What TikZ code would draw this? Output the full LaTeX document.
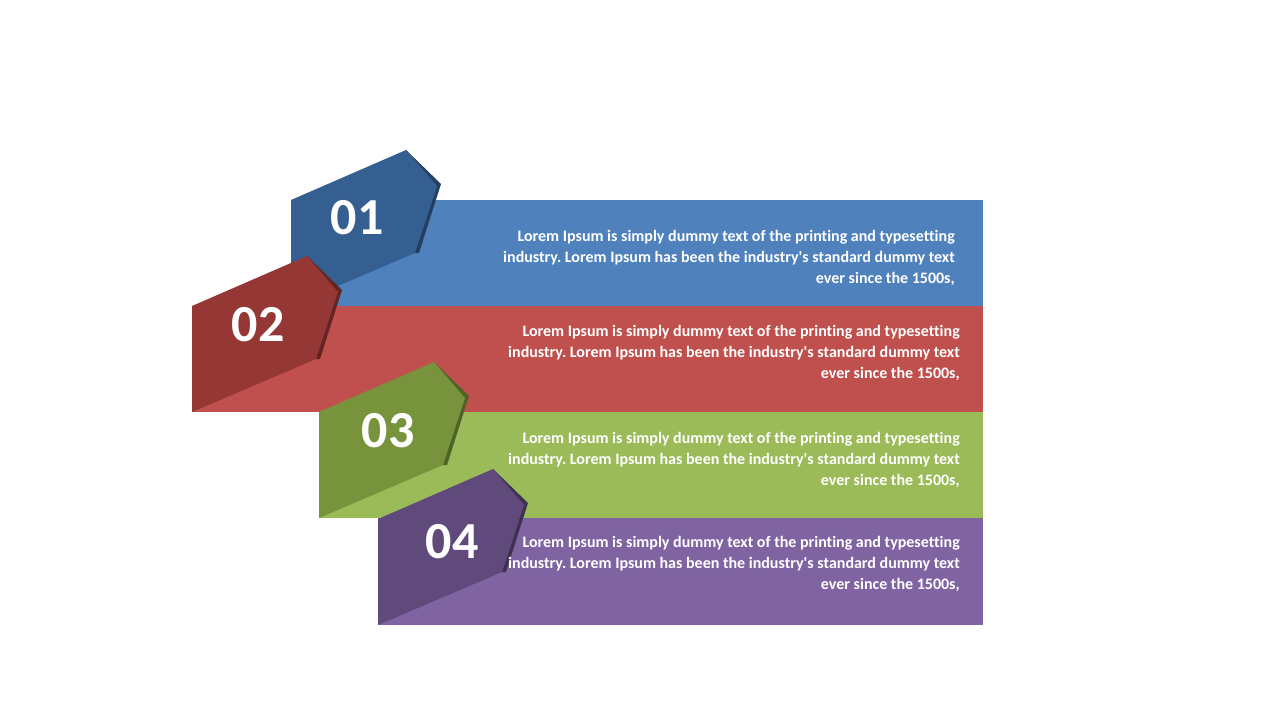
\documentclass[tikz,border=0pt]{standalone}
\usepackage{fontspec}
\setmainfont{Carlito}[Ligatures=NoCommon]
\usepackage{tikz}
\usepackage{color}
\usetikzlibrary{calc}
\frenchspacing

\definecolor{bandA}{HTML}{4F81BD}
\definecolor{tabA}{HTML}{365F91}
\definecolor{sideA}{HTML}{243F60}
\definecolor{bandB}{HTML}{C0504D}
\definecolor{tabB}{HTML}{953735}
\definecolor{sideB}{HTML}{632523}
\definecolor{bandC}{HTML}{9BBB59}
\definecolor{tabC}{HTML}{77933C}
\definecolor{sideC}{HTML}{4F6228}
\definecolor{bandD}{HTML}{8064A2}
\definecolor{tabD}{HTML}{604A7B}
\definecolor{sideD}{HTML}{3F3151}

\begin{document}
\begin{tikzpicture}[x=0.75pt,y=-0.75pt,
  num/.style={text=white,inner sep=0,font=\bfseries\fontsize{39}{39}\selectfont},
  txt/.style={text=white,inner sep=0,anchor=east,align=right,font=\bfseries\fontsize{12}{15.75}\selectfont}]

  \useasboundingbox (0,0) rectangle (1280,720);

  % band 01
  \fill[bandA] (291,200) rectangle (983,306);
  \fill[sideA] (406,150) -- (441,184) -- (419,253) -- (415,253) -- cycle;
  \fill[tabA] (291,200) -- ++(115,-50) -- ++(31,36) -- ++(-22,67) -- (291,306) -- cycle;
  \node[num] (n1) at (357,218) {01};
  \node[txt] (t1) at (955,258) {Lorem Ipsum is simply dummy text of the printing and typesetting\\industry. Lorem Ipsum has been the industry\textquotesingle s standard dummy text\\ever since the 1500s,};

  % band 02
  \fill[bandB] (192,306) rectangle (983,412);
  \fill[sideB] (307,256) -- (342,290) -- (320,359) -- (316,359) -- cycle;
  \fill[tabB] (192,306) -- ++(115,-50) -- ++(31,36) -- ++(-22,67) -- (192,412) -- cycle;
  \node[num] (n2) at (258,325) {02};
  \node[txt] (t2) at (960,353) {Lorem Ipsum is simply dummy text of the printing and typesetting\\industry. Lorem Ipsum has been the industry\textquotesingle s standard dummy text\\ever since the 1500s,};

  % band 03
  \fill[bandC] (319,412) rectangle (983,518);
  \fill[sideC] (434,362) -- (469,396) -- (447,465) -- (443,465) -- cycle;
  \fill[tabC] (319,412) -- ++(115,-50) -- ++(31,36) -- ++(-22,67) -- (319,518) -- cycle;
  \node[num] (n3) at (388,431) {03};
  \node[txt] (t3) at (960,460) {Lorem Ipsum is simply dummy text of the printing and typesetting\\industry. Lorem Ipsum has been the industry\textquotesingle s standard dummy text\\ever since the 1500s,};

  % band 04
  \fill[bandD] (378,518) rectangle (983,625);
  \fill[sideD] (493,469) -- (528,503) -- (506,572) -- (502,572) -- cycle;
  \fill[tabD] (378,519) -- ++(115,-50) -- ++(31,36) -- ++(-22,67) -- (378,625) -- cycle;
  \node[num] (n4) at (452,542) {04};
  \node[txt] (t4) at (960,564) {Lorem Ipsum is simply dummy text of the printing and typesetting\\industry. Lorem Ipsum has been the industry\textquotesingle s standard dummy text\\ever since the 1500s,};

\end{tikzpicture}
\end{document}
